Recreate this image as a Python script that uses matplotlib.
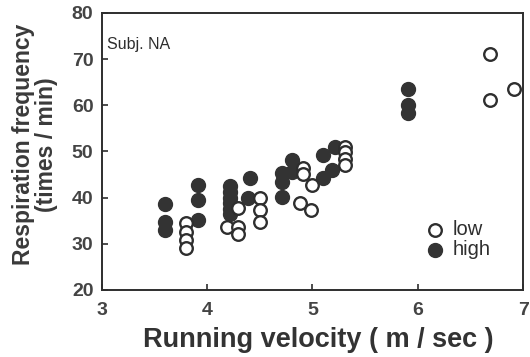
import matplotlib
matplotlib.use("Agg")
import matplotlib.pyplot as plt

plt.rcParams['font.family'] = ['Liberation Sans', 'DejaVu Sans']

# low intensity (open circles)
low_x = [3.8, 3.8, 3.8, 3.8, 4.19, 4.29, 4.29, 4.29, 4.5, 4.5, 4.5,
         4.91, 4.91, 4.88, 5.0, 4.99, 5.31, 5.31, 5.31, 5.31, 6.69, 6.69, 6.91]
low_y = [34.5, 32.6, 30.9, 29.1, 33.6, 37.8, 33.6, 32.2, 39.9, 37.3, 34.7,
         46.4, 45.0, 38.8, 42.8, 37.3, 51.0, 49.8, 48.3, 47.0, 71.0, 61.2, 63.4]

# high intensity (filled circles)
high_x = [3.6, 3.6, 3.6, 3.91, 3.91, 3.91,
          4.22, 4.22, 4.22, 4.22, 4.22, 4.22, 4.41, 4.39,
          4.71, 4.71, 4.71, 4.81, 4.81, 5.1, 5.1, 5.21, 5.19,
          5.91, 5.91, 5.91]
high_y = [38.5, 34.8, 33.0, 42.8, 39.5, 35.2,
          42.5, 41.3, 40.0, 38.8, 37.6, 36.4, 44.3, 39.9,
          45.4, 43.4, 40.2, 48.2, 45.6, 49.3, 44.3, 51.0, 46.0,
          63.4, 60.1, 58.4]

ink = '#2e2e2e'

fig = plt.figure(figsize=(5.30, 3.57), dpi=100)
ax = fig.add_axes([0.192, 0.188, 0.795, 0.776])

ax.scatter(high_x, high_y, s=100, c='#333333', edgecolors='#333333',
           linewidths=1.0, label='high', zorder=2)
ax.scatter(low_x, low_y, s=82, facecolors='white', edgecolors=ink,
           linewidths=1.7, label='low', zorder=3)

ax.set_xlim(3, 7)
ax.set_ylim(20, 80)
ax.set_xticks([3, 4, 5, 6, 7])
ax.set_yticks([20, 30, 40, 50, 60, 70, 80])
ax.tick_params(direction='in', length=4, width=1.2, colors=ink,
               labelsize=14, labelcolor='#444444')
ax.tick_params(axis='x', pad=9)
ax.tick_params(axis='y', pad=6)
for lab in ax.get_xticklabels() + ax.get_yticklabels():
    lab.set_fontweight('bold')
for sp in ax.spines.values():
    sp.set_linewidth(1.4)
    sp.set_color(ink)

ax.text(0.013, 0.885, 'Subj. NA', transform=ax.transAxes, fontsize=11.5,
        color=ink, va='center', ha='left')

handles, labels = ax.get_legend_handles_labels()
ax.legend(handles[::-1], labels[::-1], loc='lower left',
          bbox_to_anchor=(0.735, 0.06), frameon=False, fontsize=14.5,
          handletextpad=0.45, labelspacing=0.05, borderpad=0.2,
          handlelength=0.9, labelcolor=ink)

fig.text(0.60, 0.048, 'Running velocity ( m / sec )', ha='center',
         va='center', fontsize=19.5, fontweight='bold', color='#333333')
fig.text(0.066, 0.595, 'Respiration frequency\n(times / min)', ha='center',
         va='center', rotation=90, fontsize=16.5, fontweight='bold',
         color='#3a3a3a', linespacing=1.0)

fig.savefig('out.png', dpi=100)
